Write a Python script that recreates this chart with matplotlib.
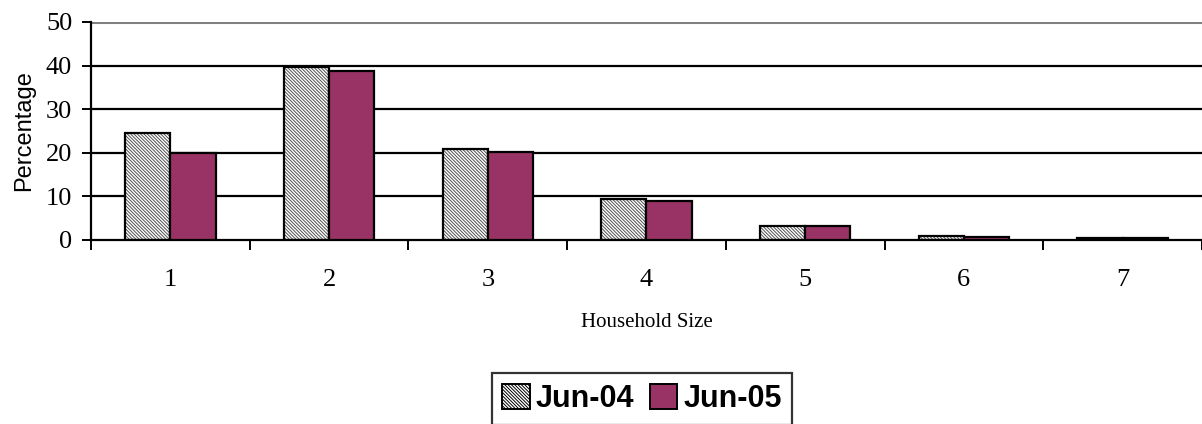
import numpy as np
import matplotlib.pyplot as plt
from matplotlib.patches import Patch

# --- DATA ---
sizes = [1, 2, 3, 4, 5, 6, 7]
jun04 = [24.5, 39.6, 20.8, 9.4, 3.3, 1.0, 0.5]
jun05 = [19.9, 38.8, 20.2, 8.9, 3.1, 0.8, 0.5]
series = ["Jun-04", "Jun-05"]

MAROON = "#993366"
HATCH = "\\" * 10
W = 0.285

plt.rcParams["hatch.linewidth"] = 0.7

fig = plt.figure(figsize=(12.02, 4.24), dpi=100)
ax = fig.add_axes([91 / 1202, 1 - 240 / 424, 1 - 91 / 1202, 218 / 424])

x = np.array(sizes, dtype=float)

# gridlines behind bars
for v in [10, 20, 30, 40]:
    ax.axhline(v, color="black", lw=1.6, zorder=0)
ax.axhline(50, color="#808080", lw=2.2, zorder=0)

# hatched Jun-04 bars: gray hatch first, then black outline on top
ax.bar(x - W / 2, jun04, W, facecolor="white", edgecolor="#505050",
       hatch=HATCH, linewidth=0, zorder=2)
ax.bar(x - W / 2, jun04, W, facecolor="none", edgecolor="black",
       linewidth=1.6, zorder=3)
ax.bar(x + W / 2, jun05, W, facecolor=MAROON, edgecolor="black",
       linewidth=1.6, zorder=3)

ax.set_xlim(0.5, 0.5 + 1111 / 159.5)
ax.set_ylim(0, 50)

for s in ["top", "right"]:
    ax.spines[s].set_visible(False)
ax.spines["left"].set_linewidth(1.6)
ax.spines["bottom"].set_linewidth(1.6)

ax.set_yticks(range(0, 51, 10))
ax.set_xticks(x)
ax.set_xticks(np.arange(0.5, 8, 1), minor=True)
ax.tick_params(axis="x", which="major", length=0, pad=21)
ax.tick_params(axis="x", which="minor", length=7, width=1.4, direction="out")
ax.tick_params(axis="y", length=6.5, width=1.4, direction="out", pad=7)

for lab in ax.get_xticklabels() + ax.get_yticklabels():
    lab.set_fontfamily("Liberation Serif")
    lab.set_fontsize(19)

ax.set_xlabel("Household Size", fontfamily="Liberation Serif", fontsize=15,
              labelpad=16)
ax.set_ylabel("Percentage", fontfamily="Liberation Sans", fontsize=17,
              labelpad=8)

handles = [
    Patch(facecolor="white", edgecolor="#505050", hatch=HATCH),
    Patch(facecolor=MAROON, edgecolor="black"),
]
leg = fig.legend(handles, series, loc="upper center",
                 bbox_to_anchor=(642 / 1202, 1 - 373 / 424), ncol=2,
                 frameon=True, fancybox=False, edgecolor="black",
                 handlelength=0.9, handleheight=0.9, handletextpad=0.2,
                 columnspacing=0.5, borderpad=0.35, borderaxespad=0,
                 prop={"family": "Liberation Sans", "weight": "bold", "size": 22})
leg.get_frame().set_linewidth(1.6)
for h in leg.legend_handles:
    h.set_edgecolor("black")
    h.set_linewidth(1.4)

fig.savefig("out.png", dpi=100)
